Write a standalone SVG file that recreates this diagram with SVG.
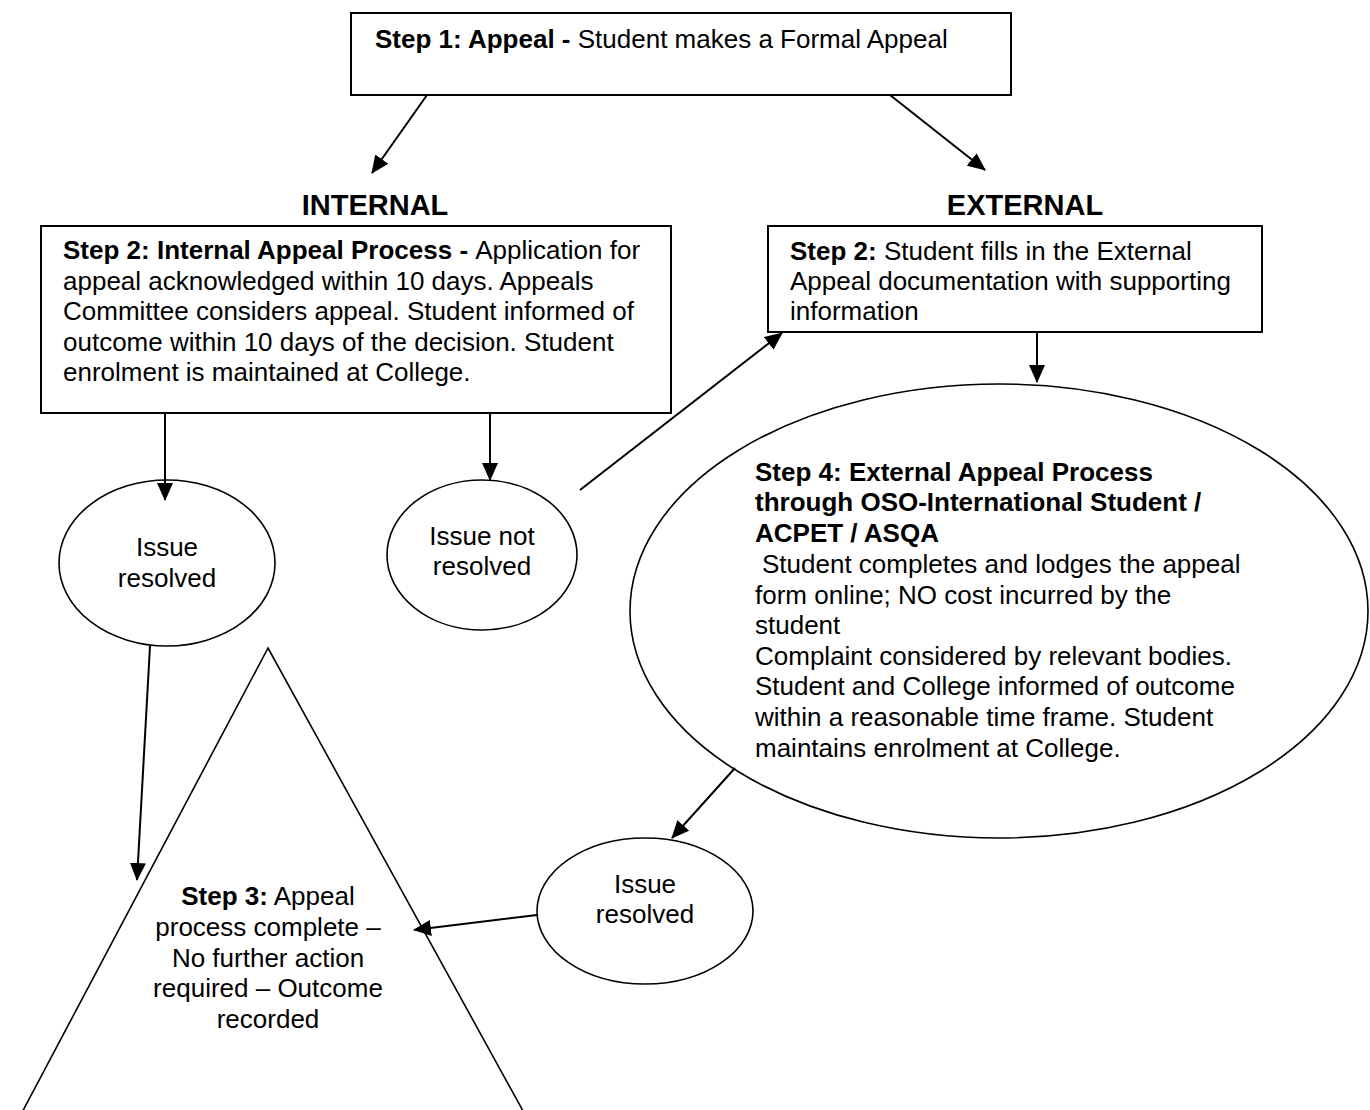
<svg xmlns="http://www.w3.org/2000/svg" width="1370" height="1110" viewBox="0 0 1370 1110">
<style>
text{font-family:"Liberation Sans",Arial,sans-serif;font-size:26px;fill:#000}
.b{font-weight:bold}
.c{text-anchor:middle}
.h{font-size:29px;font-weight:bold;text-anchor:middle}
.box{fill:#fff;stroke:#000;stroke-width:2}
.shape{fill:#fff;stroke:#000;stroke-width:1.6}
.con{stroke:#000;stroke-width:2;fill:none;marker-end:url(#ah)}
</style>
<defs>
<marker id="ah" markerUnits="userSpaceOnUse" markerWidth="18" markerHeight="16" refX="17" refY="8" orient="auto">
<path d="M0,0 L18,8 L0,16 Z" fill="#000"/>
</marker>
</defs>
<rect width="1370" height="1110" fill="#fff"/>

<g id="step1">
<rect class="box" x="351" y="13" width="660" height="82"/>
<text x="375" y="48"><tspan class="b">Step 1: Appeal - </tspan>Student makes a Formal Appeal</text>
</g>

<g id="label-internal"><text class="h" x="375" y="215">INTERNAL</text></g>
<g id="label-external"><text class="h" x="1025" y="215">EXTERNAL</text></g>

<g id="internal-step2">
<rect class="box" x="41" y="226" width="630" height="187"/>
<text x="63" y="259"><tspan class="b">Step 2: Internal Appeal Process - </tspan>Application for</text>
<text x="63" y="290">appeal acknowledged within 10 days. Appeals</text>
<text x="63" y="320">Committee considers appeal. Student informed of</text>
<text x="63" y="351">outcome within 10 days of the decision. Student</text>
<text x="63" y="381">enrolment is maintained at College.</text>
</g>

<g id="external-step2">
<rect class="box" x="768" y="226" width="494" height="106"/>
<text x="790" y="260"><tspan class="b">Step 2: </tspan>Student fills in the External</text>
<text x="790" y="290">Appeal documentation with supporting</text>
<text x="790" y="320">information</text>
</g>

<g id="step4">
<ellipse class="shape" cx="999" cy="611" rx="369" ry="227"/>
<text class="b" x="755" y="481">Step 4: External Appeal Process</text>
<text class="b" x="755" y="511">through OSO-International Student /</text>
<text class="b" x="755" y="542">ACPET / ASQA</text>
<text x="762" y="573">Student completes and lodges the appeal</text>
<text x="755" y="604">form online; NO cost incurred by the</text>
<text x="755" y="634">student</text>
<text x="755" y="665">Complaint considered by relevant bodies.</text>
<text x="755" y="695">Student and College informed of outcome</text>
<text x="755" y="726">within a reasonable time frame. Student</text>
<text x="755" y="757">maintains enrolment at College.</text>
</g>

<g id="issue-resolved-internal">
<ellipse class="shape" cx="167" cy="563" rx="108" ry="83"/>
<text class="c" x="167" y="556">Issue</text>
<text class="c" x="167" y="587">resolved</text>
</g>

<g id="issue-not-resolved">
<ellipse class="shape" cx="482" cy="555" rx="95" ry="75"/>
<text class="c" x="482" y="545">Issue not</text>
<text class="c" x="482" y="575">resolved</text>
</g>

<g id="issue-resolved-external">
<ellipse class="shape" cx="645" cy="911" rx="108" ry="73"/>
<text class="c" x="645" y="893">Issue</text>
<text class="c" x="645" y="923">resolved</text>
</g>

<g id="step3">
<polygon class="shape" points="268,648 18,1120 528,1120"/>
<text class="c" x="268" y="905"><tspan class="b">Step 3:</tspan> Appeal</text>
<text class="c" x="268" y="936">process complete –</text>
<text class="c" x="268" y="967">No further action</text>
<text class="c" x="268" y="997">required – Outcome</text>
<text class="c" x="268" y="1028">recorded</text>
</g>

<g id="connectors">
<line class="con" x1="427" y1="95" x2="372" y2="173"/>
<line class="con" x1="890" y1="95" x2="985" y2="170"/>
<line class="con" x1="165" y1="413" x2="165" y2="500"/>
<line class="con" x1="490" y1="413" x2="490" y2="480"/>
<line class="con" x1="580" y1="490" x2="782" y2="333"/>
<line class="con" x1="1037" y1="332" x2="1037" y2="382"/>
<line class="con" x1="150" y1="646" x2="137" y2="880"/>
<line class="con" x1="735" y1="768" x2="672" y2="838"/>
<line class="con" x1="537" y1="915" x2="414" y2="930"/>
</g>
</svg>
